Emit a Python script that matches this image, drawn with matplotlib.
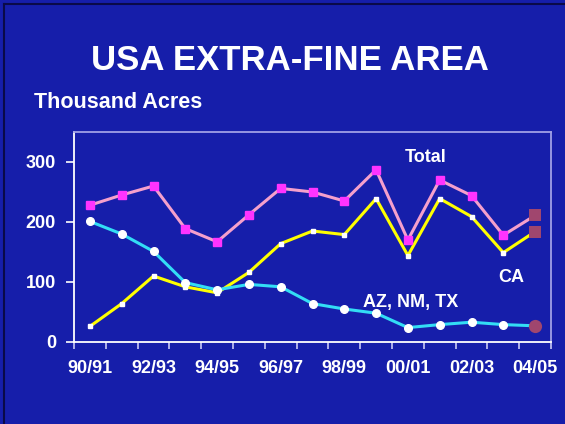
import matplotlib.pyplot as plt
from matplotlib.lines import Line2D
import numpy as np

# seasons 90/91 .. 04/05, last season is a forecast
seasons = ["90/91", "91/92", "92/93", "93/94", "94/95", "95/96", "96/97", "97/98",
           "98/99", "99/00", "00/01", "01/02", "02/03", "03/04", "04/05"]
total = [228, 245, 260, 189, 167, 212, 256, 250, 235, 287, 170, 270, 244, 178, 211]
ca = [26, 64, 110, 92, 82, 116, 164, 185, 179, 239, 144, 239, 209, 149, 184]
az_nm_tx = [201, 180, 151, 99, 87, 96, 92, 64, 55, 48, 24, 29, 33, 29, 27]

BG = "#161EAA"
FORECAST = "#A0466E"
W, H = 565, 424

plt.rcParams["font.family"] = ["Liberation Sans", "DejaVu Sans"]
plt.rcParams["font.weight"] = "bold"

fig = plt.figure(figsize=(W / 100, H / 100), dpi=100, facecolor=BG)
ax = fig.add_axes([74 / W, 82 / H, 477 / W, 210 / H], facecolor=BG)

x = np.arange(len(seasons))
last = len(seasons) - 1

ax.plot(x, ca, color="#FFFF00", lw=2.2, marker="s", ms=3.2, mfc="white",
        mec="white", markevery=list(range(last)), zorder=3)
ax.plot(x, az_nm_tx, color="#33DDF5", lw=2.2, marker="o", ms=5.5, mfc="white",
        mec="white", markevery=list(range(last)), zorder=4)
ax.plot(x, total, color="#F5A0CC", lw=2.2, marker="s", ms=5.5, mfc="#FF33FF",
        mec="#FF33FF", markevery=list(range(last)), zorder=5)

# forecast points
ax.plot(x[last], total[last], "s", ms=9.3, mew=0, color=FORECAST, zorder=6)
ax.plot(x[last], ca[last], "s", ms=9.3, mew=0, color=FORECAST, zorder=6)
ax.plot(x[last], az_nm_tx[last], "o", ms=9.5, mew=0, color=FORECAST, zorder=6)

ax.set_xlim(-0.5, last + 0.5)
ax.set_ylim(0, 350)
ax.set_yticks([0, 100, 200, 300])
ax.set_xticks(np.arange(-0.5, last + 1, 1))
ax.set_xticklabels([])
ax.set_xticks(x[::2], minor=True)
ax.set_xticklabels(seasons[::2], minor=True)

ax.tick_params(axis="x", which="major", direction="out", length=5, width=1.2,
               color="#C8C8F5")
ax.tick_params(axis="x", which="minor", length=0, pad=13, labelsize=13,
               labelcolor="white")
ax.tick_params(axis="y", direction="out", length=6, width=1.2, color="white",
               pad=7, labelsize=13, labelcolor="white")
for lbl in ax.get_xticklabels(minor=True) + ax.get_yticklabels():
    lbl.set_fontweight("bold")

ax.spines["left"].set_color("white")
ax.spines["left"].set_linewidth(1.3)
ax.spines["bottom"].set_color("white")
ax.spines["bottom"].set_linewidth(1.3)
for side in ("top", "right"):
    ax.spines[side].set_color("#A0A0E6")
    ax.spines[side].set_linewidth(1.3)


def label(px, py, s, size=13):
    # place text by pixel position measured from the top-left corner
    fig.text(px / W, 1 - py / H, s, fontsize=size, fontweight="bold",
             color="white", ha="center", va="center")


label(426, 157, "Total")
label(411, 303, "AZ, NM, TX")
label(511, 278, "CA")
label(290, 60, "USA EXTRA-FINE AREA", size=25)
fig.text(34 / W, 1 - 102 / H, "Thousand Acres", fontsize=15.5,
         fontweight="bold", color="white", ha="left", va="center")

# dark slide border along the top and left
fig.add_artist(Line2D([4 / W, 4 / W], [0, 1 - 4 / H], color="#0A0A48", lw=1.5))
fig.add_artist(Line2D([4 / W, 1], [1 - 4 / H, 1 - 4 / H], color="#0A0A48", lw=1.5))

fig.savefig("out.png", dpi=100, facecolor=BG)
